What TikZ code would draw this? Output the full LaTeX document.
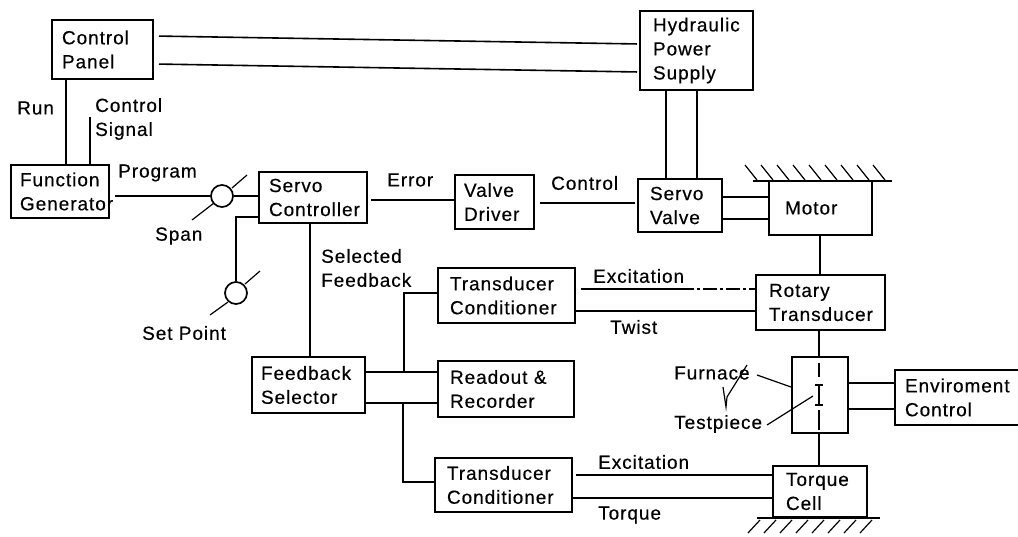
\documentclass[tikz,border=0pt]{standalone}
\usepackage{fontspec}
\setmainfont[LetterSpace=5,FakeBold=0.4]{Liberation Sans}
\usetikzlibrary{calc}
\tikzset{
  wire/.style={line width=1.6pt},
  thinwire/.style={line width=1.2pt},
  box/.style={draw,line width=2pt,align=left,inner sep=0pt,font=\fontsize{19}{24}\selectfont},
  lab/.style={anchor=west,inner sep=0pt,align=left,font=\fontsize{19}{24}\selectfont},
  dial/.style={draw,circle,line width=1.7pt,minimum size=22pt,inner sep=0pt},
  ground/.style={line width=1.7pt},
  hatch/.style={line width=1.2pt}
}
\begin{document}
\begin{tikzpicture}[x=1pt,y=-1pt]
\useasboundingbox (0,0) rectangle (1018,537);
% boxes
\node[box,minimum width=101pt,minimum height=59pt,text width=81pt] (cp) at (102.5,49.5) {Control\\Panel};
\node[box,minimum width=98pt,minimum height=53pt,text width=80pt] (fg) at (60,191.5) {Function\\Generator};
\node[box,minimum width=108pt,minimum height=51pt,text width=88pt] (sc) at (313,197.5) {Servo\\Controller};
\node[box,minimum width=79pt,minimum height=54pt,text width=61pt] (vd) at (494.5,202) {Valve\\Driver};
\node[box,minimum width=113pt,minimum height=79pt,text width=87pt] (hp) at (696.5,50.5) {Hydraulic\\Power\\Supply};
\node[box,minimum width=84pt,minimum height=53pt,text width=60pt] (sv) at (680,205.5) {Servo\\Valve};
\node[box,minimum width=103pt,minimum height=54pt,text width=71pt] (mo) at (820.5,208) {Motor};
\node[box,minimum width=137pt,minimum height=55pt,text width=113pt] (tc) at (506.5,295.5) {Transducer\\Conditioner};
\node[box,minimum width=136pt,minimum height=56pt,text width=112pt] (ro) at (506,389) {Readout \&\\Recorder};
\node[box,minimum width=113pt,minimum height=56pt,text width=95pt] (fs) at (308.5,385) {Feedback\\Selector};
\node[box,minimum width=137pt,minimum height=54pt,text width=113pt] (tb) at (503.5,485) {Transducer\\Conditioner};
\node[box,minimum width=129pt,minimum height=55pt,text width=103pt] (rt) at (820.5,302.5) {Rotary\\Transducer};
\node[box,minimum width=56pt,minimum height=76pt] (fu) at (820,395) {};
\node[box,minimum width=129pt,minimum height=55pt,text width=109pt] (en) at (959.5,397.5) {Enviroment\\Control};
\node[box,minimum width=94pt,minimum height=51pt,text width=68pt] (tq) at (820,491.5) {Torque\\Cell};
% dials
\node[dial] (d1) at (222,196) {};
\node[dial] (d2) at (236,293) {};
% free ends
\coordinate (cs) at (90,117);
\coordinate (sa) at (192,220);
\coordinate (sb) at (214,203);
\coordinate (sc1) at (232,188);
\coordinate (sc2) at (247,175);
\coordinate (pa) at (210,315);
\coordinate (pb) at (228,302);
\coordinate (pc) at (245,284);
\coordinate (pd) at (260,271);
\coordinate (fl) at (757,375);
\coordinate (tl) at (767,425);
\coordinate (tm) at (813,396);
% connectors
\draw[wire,shorten <=5pt,shorten >=2pt] (cp.east |- 0,36) -- (hp.west |- 0,44);
\draw[wire,shorten <=5pt,shorten >=2pt] (cp.east |- 0,64) -- (hp.west |- 0,72);
\draw[wire] (cp.south -| 66,0) -- (fg.north -| 66,0);
\draw[thinwire] (cs) -- (fg.north -| 90,0);
\draw[wire,shorten <=5pt] (fg.east |- d1.west) -- (d1.west);
\draw[wire] (d1.east) -- (sc.west |- d1.east);
\draw[wire] (sc.west |- 0,217) -- (d2.north |- 0,217) -- (d2.north);
\draw[wire] (sc.south -| 310,0) -- (fs.north -| 310,0);
\draw[wire,shorten <=3pt] (sc.east |- 0,200) -- (vd.west |- 0,200);
\draw[wire,shorten <=5pt,shorten >=2pt] (vd.east |- 0,203) -- (sv.west |- 0,203);
\draw[wire] (hp.south -| 666,0) -- (sv.north -| 666,0);
\draw[wire] (hp.south -| 697,0) -- (sv.north -| 697,0);
\draw[wire] (sv.east |- 0,197) -- (mo.west |- 0,197);
\draw[wire] (sv.east |- 0,219) -- (mo.west |- 0,219);
\draw[wire] (mo.south -| 820,0) -- (rt.north -| 820,0);
\draw[wire] (rt.south -| 819,0) -- (fu.north -| 819,0);
\draw[wire] (fu.south -| 819,0) -- (tq.north -| 819,0);
\draw[wire] (fs.east |- 0,372) -- (ro.west |- 0,372);
\draw[wire] (fs.east |- 0,403) -- (ro.west |- 0,403);
\draw[wire] (tc.west |- 0,293) -- (404,293) -- (404,372);
\draw[wire] (tb.west |- 0,482) -- (403,482) -- (403,403);
\draw[wire,shorten <=5pt] (tc.east |- 0,289) -- (680,289);
\draw[wire,dash pattern=on 14pt off 3pt on 3pt off 3pt] (680,289) -- (rt.west |- 0,289);
\draw[wire] (tc.east |- 0,311) -- (rt.west |- 0,311);
\draw[wire,shorten <=3pt] (tb.east |- 0,475) -- (tq.west |- 0,475);
\draw[wire] (tb.east |- 0,498) -- (tq.west |- 0,498);
\draw[wire] (fu.east |- 0,383) -- (en.west |- 0,383);
\draw[wire] (fu.east |- 0,409) -- (en.west |- 0,409);
\draw[thinwire] (sa) -- (sb);
\draw[thinwire] (sc1) -- (sc2);
\draw[thinwire] (pa) -- (pb);
\draw[thinwire] (pc) -- (pd);
\draw[thinwire] (fl) -- (fu.west |- 0,387);
\draw[thinwire] (tl) -- (tm);
% inside the furnace
\draw[wire] (819,363) -- (819,377);
\draw[wire] (819,385) -- (819,405);
\draw[thinwire] (815,385) -- (823,385);
\draw[thinwire] (815,405) -- (823,405);
\draw[wire] (819,410) -- (819,430);
% pen mark
\draw[thinwire] (723,387) -- (726,407) -- (727,397) -- (747,365);
% ground of the motor
\draw[ground] (753,181) -- (892,181);
\foreach \h in {0,...,8} \draw[hatch] ({745+16*\h},165) -- ({757+16*\h},180);
% ground of the torque cell
\draw[ground] (757,518) -- (880,518);
\foreach \h in {0,...,7} \draw[hatch] ({760+16*\h},520) -- ({748+16*\h},533);
% labels
\node[lab] (l1) at (17,108) {Run};
\node[lab] (l2) at (95,119) {Control\\Signal};
\node[lab] (l3) at (118,173) {Program};
\node[lab] (l4) at (155,236) {Span};
\node[lab] (l5) at (387,180) {Error};
\node[lab] (l6) at (551,183) {Control};
\node[lab] (l7) at (321,268) {Selected\\Feedback};
\node[lab] (l8) at (142,333) {Set Point};
\node[lab] (l9) at (593,276) {Excitation};
\node[lab] (l10) at (610,327) {Twist};
\node[lab] (l11) at (674,373) {Furnace};
\node[lab] (l12) at (674,424) {Testpiece};
\node[lab] (l13) at (598,462) {Excitation};
\node[lab] (l14) at (598,515) {Torque};
\end{tikzpicture}
\end{document}
